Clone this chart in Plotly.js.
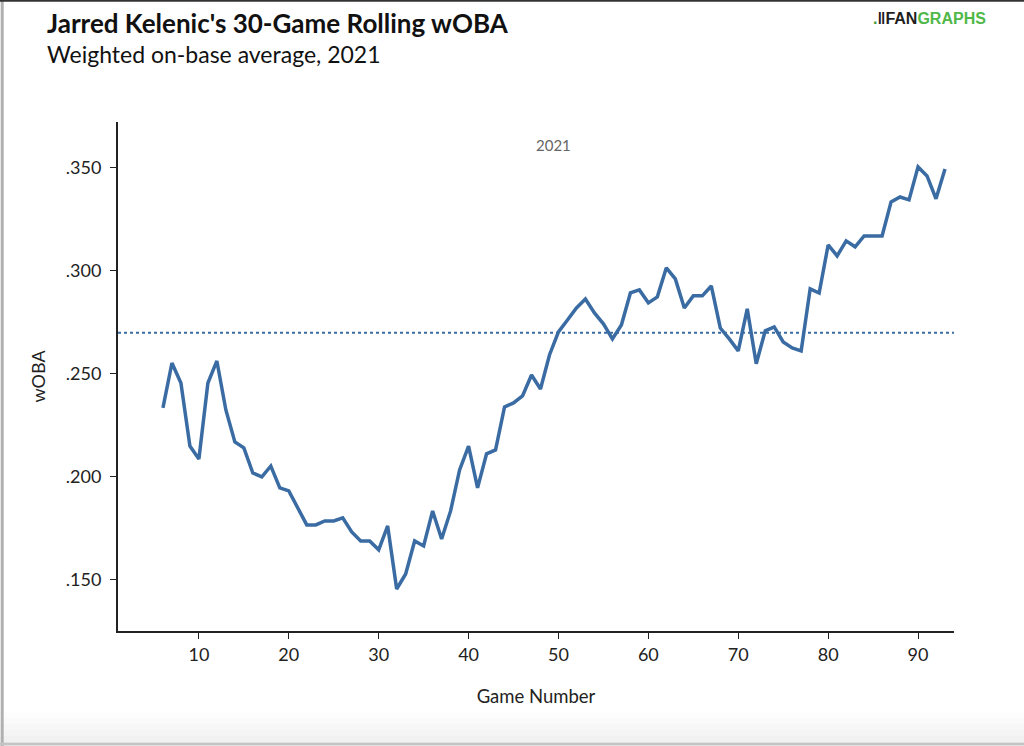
<!DOCTYPE html>
<html>
<head>
<meta charset="utf-8">
<script src="https://cdn.plot.ly/plotly-3.0.1.min.js"></script>
<style>
html,body{margin:0;padding:0;background:#fff;}
#chart{width:1024px;height:746px;}
</style>
</head>
<body>
<div id="chart"></div>
<script>
const games = [6,7,8,9,10,11,12,13,14,15,16,17,18,19,20,21,22,23,24,25,26,27,28,29,30,
  31,32,33,34,35,36,37,38,39,40,41,42,43,44,45,46,47,48,49,50,51,52,53,54,55,56,57,58,59,60,
  61,62,63,64,65,66,67,68,69,70,71,72,73,74,75,76,77,78,79,80,81,82,83,84,85,86,87,88,89,90,91,92,93];
const woba = [.2335,.2553,.2456,.2150,.2087,.2456,.2563,.2325,.2170,.2141,.2019,.2000,.2053,.1947,.1932,
  .1845,.1767,.1767,.1786,.1786,.1801,.1733,.1689,.1689,.1646,
  .1762,.1456,.1529,.1689,.1665,.1835,.1699,.1835,.2034,.2150,
  .1947,.2112,.2131,.2340,.2359,.2393,.2495,.2427,.2592,.2704,
  .2762,.2820,.2864,.2796,.2743,.2670,.2738,.2893,.2908,.2845,
  .2874,.3015,.2961,.2820,.2879,.2879,.2927,.2723,.2670,.2612,
  .2816,.2549,.2709,.2728,.2655,.2626,.2612,.2913,.2893,.3126,
  .3073,.3146,.3117,.3170,.3170,.3170,.3335,.3359,.3345,.3505,
  .3461,.3350,.3495];
const leagueAvg = 0.270;
const yTickVals = [0.150,0.200,0.250,0.300,0.350];
const yTickText = ['.150','.200','.250','.300','.350'];
const xTickVals = [10,20,30,40,50,60,70,80,90];

const lineColor = '#3a6ca3';

const traces = [
  {x: games, y: woba, type: 'scatter', mode: 'lines',
   line: {color: lineColor, width: 3.5}, hoverinfo: 'x+y', showlegend: false}
];

// bottom fade band (pixel rows converted to paper units below)
const H = 746, T = 122, B = 115, plotH = H - T - B;
function py(pix) { return (H - B - pix) / plotH; }
const fadeShapes = [];
const fadeRows = [[712,718,'#fdfdfd'],[718,724,'#fafafa'],[724,730,'#f7f7f7'],[730,736,'#f4f4f4'],[736,742,'#f1f1f1']];
fadeRows.forEach(r => fadeShapes.push({type:'rect', xref:'paper', yref:'paper', x0:-0.15, x1:1.1,
  y0: py(r[0]), y1: py(r[1]), fillcolor: r[2], line:{width:0}, layer:'below'}));

const layout = {
  width: 1024, height: 746,
  paper_bgcolor: '#ffffff', plot_bgcolor: 'rgba(0,0,0,0)',
  margin: {l: 118, r: 70, t: 122, b: 115},
  font: {family: 'Lato, "Open Sans", sans-serif', color: '#222'},
  showlegend: false,
  xaxis: {
    range: [1, 94], tickvals: xTickVals, ticks: 'outside', ticklen: 6, tickwidth: 1, tickcolor: '#222',
    showline: true, linecolor: '#222', linewidth: 2, showgrid: false, zeroline: false,
    tickfont: {size: 18, color: '#222'},
    title: {text: 'Game Number', font: {size: 18.5, color: '#222'}, standoff: 26}
  },
  yaxis: {
    range: [0.1252, 0.3723], tickvals: yTickVals, ticktext: yTickText, ticks: 'outside', ticklen: 6, tickwidth: 1, tickcolor: '#222',
    ticklabelstandoff: 5,
    showline: true, linecolor: '#222', linewidth: 2, showgrid: false, zeroline: false,
    tickfont: {size: 18, color: '#222'},
    title: {text: 'wOBA', font: {size: 18, color: '#222'}, standoff: 16}
  },
  shapes: fadeShapes.concat([
    {type: 'line', xref: 'paper', x0: 0, x1: 1, yref: 'y', y0: leagueAvg, y1: leagueAvg,
     line: {color: lineColor, width: 2, dash: 'dot'}},
    {type: 'line', xref: 'paper', yref: 'paper', x0: -0.1385, x1: -0.1385, y0: -0.47, y1: 1.45,
     line: {color: '#b0b0b0', width: 3}},
    {type: 'line', xref: 'paper', yref: 'paper', x0: -0.15, x1: 1.1, y0: 1.238, y1: 1.238,
     line: {color: '#333', width: 2}},
    {type: 'line', xref: 'paper', yref: 'paper', x0: -0.15, x1: 1.1, y0: py(744), y1: py(744),
     line: {color: '#c4c4c4', width: 3}}
  ]),
  annotations: [
    {text: "<b>Jarred Kelenic's 30-Game Rolling wOBA</b>", xref: 'paper', yref: 'paper',
     x: -0.0875, y: 1.230, xanchor: 'left', yanchor: 'top', showarrow: false,
     font: {size: 26, color: '#111', family: 'Lato, sans-serif'}},
    {text: 'Weighted on-base average, 2021', xref: 'paper', yref: 'paper',
     x: -0.0875, y: 1.166, xanchor: 'left', yanchor: 'top', showarrow: false,
     font: {size: 23, color: '#111', family: 'Lato, sans-serif'}},
    {text: "<b><span style='color:#3e9a3a'>.</span>\u2016FAN<span style='color:#4fb848'>GRAPHS</span></b>",
     xref: 'paper', yref: 'paper', x: 1.041, y: 1.203, xanchor: 'right', yanchor: 'middle', showarrow: false,
     font: {size: 16, color: '#1e1e1e', family: 'Arial, "Liberation Sans", sans-serif'}},
    {text: '2021', xref: 'x', yref: 'paper', x: 49.5, y: 0.954, xanchor: 'center', yanchor: 'middle',
     showarrow: false, font: {size: 15, color: '#666'}}
  ]
};

Plotly.newPlot('chart', traces, layout, {displayModeBar: false, staticPlot: true});
</script>
</body>
</html>
